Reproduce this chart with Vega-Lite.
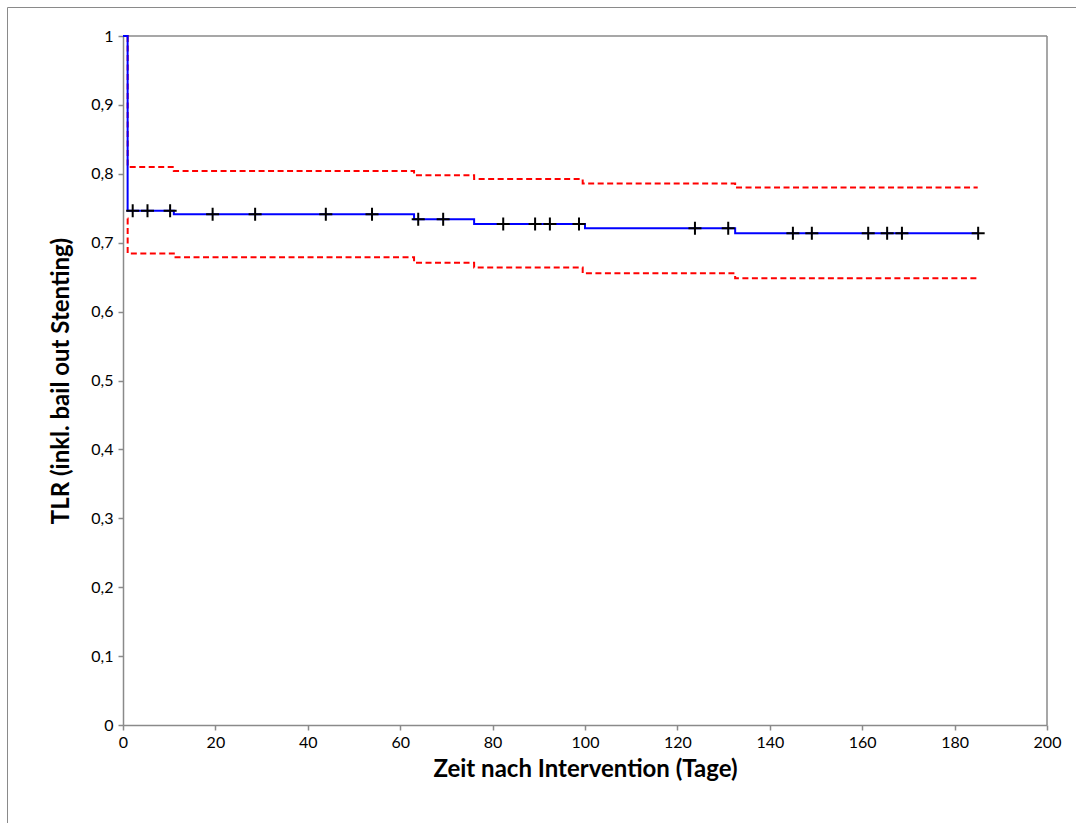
{
  "$schema": "https://vega.github.io/schema/vega-lite/v6.json",
  "width": 1069,
  "height": 816,
  "autosize": {"type": "none"},
  "padding": {"left": 7, "top": 7, "right": 0, "bottom": 0},
  "background": "white",
  "config": {
    "view": {"stroke": "#8a8a8a", "strokeWidth": 1},
    "font": "Lato",
    "axis": {"grid": false, "domainColor": "#8a8a8a", "domainWidth": 1.5, "tickColor": "#8a8a8a", "tickWidth": 1.5, "tickSize": 5, "labelFlush": false, "labelOverlap": false, "labelFont": "Lato", "labelFontSize": 16, "labelColor": "#000000", "titleFont": "Lato", "titleFontSize": 24, "titleFontWeight": "bold", "titleColor": "#000000"}
  },
  "datasets": {
    "curves": [
      {"series": "KM", "t": 0, "v": 1},
      {"series": "KM", "t": 1, "v": 0.7465},
      {"series": "KM", "t": 11, "v": 0.7412},
      {"series": "KM", "t": 63, "v": 0.7339},
      {"series": "KM", "t": 76, "v": 0.7271},
      {"series": "KM", "t": 100, "v": 0.7209},
      {"series": "KM", "t": 132.5, "v": 0.7136},
      {"series": "KM", "t": 185, "v": 0.7136},
      {"series": "upper", "t": 1, "v": 1},
      {"series": "upper", "t": 1.01, "v": 0.81},
      {"series": "upper", "t": 11, "v": 0.804},
      {"series": "upper", "t": 63, "v": 0.798},
      {"series": "upper", "t": 76, "v": 0.7925},
      {"series": "upper", "t": 99.5, "v": 0.786},
      {"series": "upper", "t": 132.5, "v": 0.78},
      {"series": "upper", "t": 185, "v": 0.78},
      {"series": "lower", "t": 1, "v": 0.735},
      {"series": "lower", "t": 1.01, "v": 0.6845},
      {"series": "lower", "t": 11, "v": 0.679},
      {"series": "lower", "t": 63, "v": 0.671},
      {"series": "lower", "t": 76, "v": 0.664},
      {"series": "lower", "t": 99.5, "v": 0.6556},
      {"series": "lower", "t": 132.5, "v": 0.6483},
      {"series": "lower", "t": 185, "v": 0.6483}
    ],
    "censored": [
      {"t": 2.1, "v": 0.7465},
      {"t": 5.3, "v": 0.7465},
      {"t": 10.2, "v": 0.7465},
      {"t": 19.4, "v": 0.7412},
      {"t": 28.6, "v": 0.7412},
      {"t": 43.9, "v": 0.7412},
      {"t": 53.9, "v": 0.7412},
      {"t": 63.9, "v": 0.7339},
      {"t": 69.3, "v": 0.7339},
      {"t": 82.3, "v": 0.7271},
      {"t": 89.2, "v": 0.7271},
      {"t": 92.4, "v": 0.7271},
      {"t": 98.7, "v": 0.7271},
      {"t": 123.8, "v": 0.7209},
      {"t": 131.0, "v": 0.7209},
      {"t": 145.0, "v": 0.7136},
      {"t": 149.1, "v": 0.7136},
      {"t": 161.3, "v": 0.7136},
      {"t": 165.4, "v": 0.7136},
      {"t": 168.6, "v": 0.7136},
      {"t": 185.1, "v": 0.7136}
    ]
  },
  "encoding": {
    "x": {"field": "t", "type": "quantitative", "scale": {"domain": [0, 200], "range": [116, 1040], "nice": false, "zero": false},
      "axis": {"orient": "bottom", "offset": -98, "values": [0, 20, 40, 60, 80, 100, 120, 140, 160, 180, 200], "labelPadding": 4, "title": "Zeit nach Intervention (Tage)", "titlePadding": 7}},
    "y": {"field": "v", "type": "quantitative", "scale": {"domain": [0, 1], "range": [718, 29], "nice": false, "zero": false},
      "axis": {"orient": "left", "offset": -116, "values": [0, 0.1, 0.2, 0.3, 0.4, 0.5, 0.6, 0.7, 0.8, 0.9, 1], "labelPadding": 5, "labelExpr": "replace(format(datum.value, '.1~f'), '.', ',')", "title": "TLR (inkl. bail out Stenting)", "titlePadding": 17}}
  },
  "layer": [
    {
      "data": {"values": [{"a": 0, "b": 200, "c": 1}]},
      "mark": {"type": "rule", "color": "#8a8a8a", "strokeWidth": 1.5},
      "encoding": {"x": {"field": "a", "type": "quantitative"}, "x2": {"field": "b"}, "y": {"field": "c", "type": "quantitative"}}
    },
    {
      "data": {"values": [{"a": 200, "c": 0, "d": 1}]},
      "mark": {"type": "rule", "color": "#8a8a8a", "strokeWidth": 1.5},
      "encoding": {"x": {"field": "a", "type": "quantitative"}, "y": {"field": "c", "type": "quantitative"}, "y2": {"field": "d"}}
    },
    {
      "data": {"name": "curves"},
      "transform": [{"filter": "datum.series != 'KM'"}],
      "mark": {"type": "line", "interpolate": "step-after", "color": "#ff0000", "strokeWidth": 2, "strokeDash": [6, 3.5]},
      "encoding": {"detail": {"field": "series", "type": "nominal"}}
    },
    {
      "data": {"name": "curves"},
      "transform": [{"filter": "datum.series == 'KM'"}],
      "mark": {"type": "line", "interpolate": "step-after", "color": "#0000ff", "strokeWidth": 2}
    },
    {
      "data": {"name": "censored"},
      "mark": {"type": "point", "shape": "M-1,0L1,0M0,-1L0,1", "size": 170, "filled": false, "stroke": "#000000", "strokeWidth": 2, "opacity": 1}
    }
  ]
}
